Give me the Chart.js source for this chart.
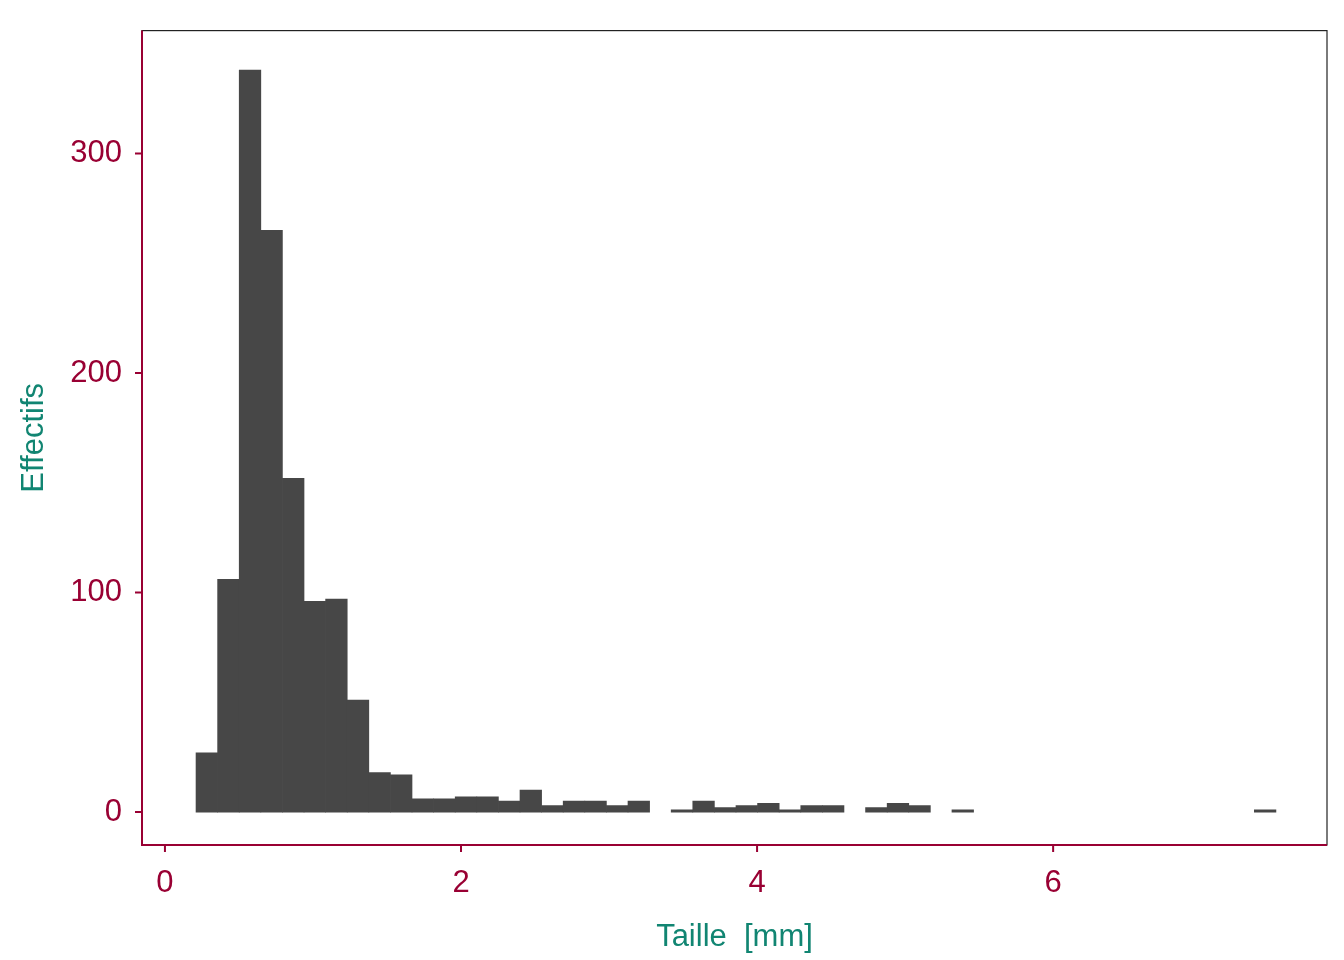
<!DOCTYPE html>
<html><head><meta charset="utf-8">
<script src="https://cdn.jsdelivr.net/npm/chart.js@4"></script>
<style>html,body{margin:0;padding:0;background:#fff}#w{width:1344px;height:960px}</style>
</head><body><div id="w"><canvas id="c"></canvas></div>
<script>
const binStart = 0.21;
const binWidth = 0.1459;
const counts = [27,106,338,265,152,96,97,51,18,17,6,6,7,7,5,10,3,5,5,3,5,0,1,5,2,3,4,1,3,3,0,2,4,3,0,1,0,0,0,0,0,0,0,0,0,0,0,0,0,1];
const xTicks = [0,2,4,6];
const yTicks = [0,100,200,300];
const data = counts.map((c,i)=>({x: binStart + binWidth*(i+0.5), y: c === 0 ? null : c}));
const red = '#990033', teal = '#118572';
const border = {id:'border', afterDraw(ch){const a=ch.chartArea,g=ch.ctx;g.save();
 g.strokeStyle='#222';g.lineWidth=1.2;g.strokeRect(a.left,a.top,a.right-a.left,a.bottom-a.top);
 g.strokeStyle=red;g.lineWidth=2;g.beginPath();g.moveTo(a.left,a.top);g.lineTo(a.left,a.bottom);g.lineTo(a.right,a.bottom);g.stroke();g.restore();}};
new Chart(document.getElementById('c'),{type:'bar',
 data:{datasets:[{data, backgroundColor:'#474747', barPercentage:1, categoryPercentage:1, borderWidth:0}]},
 options:{responsive:true,maintainAspectRatio:false,animation:false,
  layout:{padding:{top:9,right:17,left:12,bottom:0}},
  plugins:{legend:{display:false},tooltip:{enabled:false}},
  scales:{
   x:{type:'linear',offset:false,min:-0.155,max:7.85,grid:{display:false,offset:false},border:{display:false},
    afterBuildTicks(s){s.ticks=xTicks.map(v=>({value:v}));},
    afterFit(s){s.height=115;},
    ticks:{color:red,font:{family:'Liberation Sans',size:31},padding:12},
    title:{display:true,text:'Taille  [mm]',color:teal,font:{family:'Liberation Sans',size:31},padding:{top:0}}},
   y:{min:-15,max:356,grid:{display:false},border:{display:false},
    afterBuildTicks(s){s.ticks=yTicks.map(v=>({value:v}));},
    afterFit(s){s.width=130;},
    ticks:{color:red,font:{family:'Liberation Sans',size:31},padding:12},
    title:{display:true,text:'Effectifs',color:teal,font:{family:'Liberation Sans',size:31},padding:{bottom:0}}}
  }},
 plugins:[border,{id:'tk',afterDraw(ch){const g=ch.ctx,a=ch.chartArea,x=ch.scales.x,y=ch.scales.y;g.save();g.strokeStyle=red;g.lineWidth=2;g.beginPath();
  xTicks.forEach(v=>{const p=x.getPixelForValue(v);g.moveTo(p,a.bottom);g.lineTo(p,a.bottom+7);});
  yTicks.forEach(v=>{const p=y.getPixelForValue(v);g.moveTo(a.left,p);g.lineTo(a.left-7,p);});g.stroke();g.restore();}}]
});
</script></body></html>
